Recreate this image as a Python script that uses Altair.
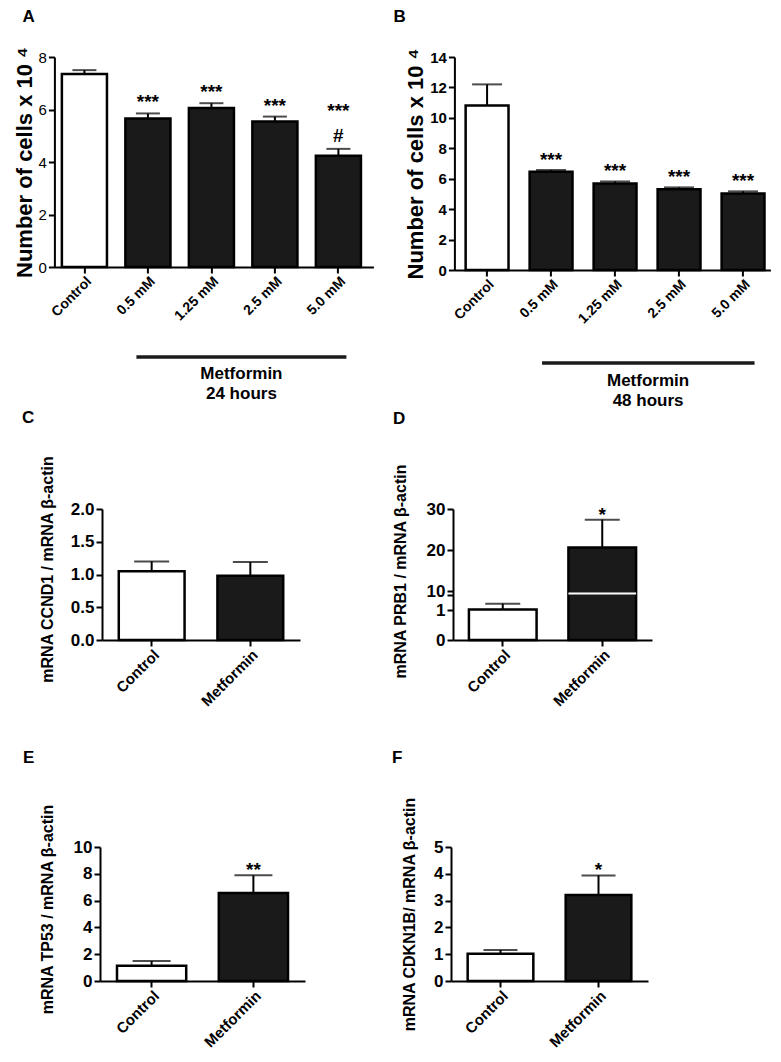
import altair as alt
import pandas as pd

FONT = "Liberation Sans"
INK = "#1a1a1a"

# ---------------- data ----------------
a_groups = ["Control", "0.5 mM", "1.25 mM", "2.5 mM", "5.0 mM"]
a_mean = [7.35, 5.66, 6.06, 5.54, 4.24]
a_sem = [0.15, 0.19, 0.18, 0.19, 0.26]
a_sig = ["", "***", "***", "***", ""]
a_hash = ["", "", "", "", "***\n#"]
a_ticks = [0, 2, 4, 6, 8]

b_groups = ["Control", "0.5 mM", "1.25 mM", "2.5 mM", "5.0 mM"]
b_mean = [10.81, 6.45, 5.68, 5.30, 5.03]
b_sem = [1.39, 0.12, 0.14, 0.13, 0.14]
b_sig = ["", "***", "***", "***", "***"]
b_ticks = [0, 2, 4, 6, 8, 10, 12, 14]

c_groups = ["Control", "Metformin"]
c_mean = [1.05, 0.98]
c_sem = [0.15, 0.21]
c_sig = ["", ""]
c_ticks = [0.0, 0.5, 1.0, 1.5, 2.0]

d_groups = ["Control", "Metformin"]
d_mean = [1.02, 20.6]
d_sem = [0.19, 6.8]
d_sig = ["", "*"]
d_ticks = [0, 1, 1.5, 10, 20, 30]
d_break = [1.5, 10]

e_groups = ["Control", "Metformin"]
e_mean = [1.13, 6.57]
e_sem = [0.36, 1.32]
e_sig = ["", "**"]
e_ticks = [0, 2, 4, 6, 8, 10]

f_groups = ["Control", "Metformin"]
f_mean = [1.02, 3.21]
f_sem = [0.14, 0.73]
f_sig = ["", "*"]
f_ticks = [0, 1, 2, 3, 4, 5]

bracket_a = ["0.5 mM", "5.0 mM", "Metformin\n24 hours"]
bracket_b = ["0.5 mM", "5.0 mM", "Metformin\n48 hours"]


def frame(groups, mean, sem, sig, hsh=None):
    return pd.DataFrame({
        "group": groups, "mean": mean, "sem": sem, "sig": sig,
        "hash": hsh if hsh is not None else [""] * len(groups),
        "kind": ["control"] + ["treated"] * (len(groups) - 1),
    })


def panel(groups, mean, sem, sig, *, letter, letter_x, letter_y, ytitle,
          yscale, yvalues, width, height, pi, po, balign, title_x,
          title_size, ylab_size, ylab_weight, xlab_size, cap, star_dy,
          hsh=None, title_y=None, yfmt=None, label_expr=None, gap=None,
          extra=()):
    df = frame(groups, mean, sem, sig, hsh)
    base = alt.Chart(df).transform_calculate(top="datum.mean + datum.sem")
    xscale = alt.Scale(paddingInner=pi, paddingOuter=po, align=balign)
    xaxis = alt.Axis(title=None, labelAngle=-45, labelFontSize=xlab_size,
                     labelFontWeight="bold", labelPadding=1, labelOverlap=False)

    def X(field):
        return alt.X(field, sort=groups, scale=xscale, axis=xaxis)

    ax_kw = dict(title=ytitle, values=yvalues, titleX=title_x,
                 titleBaseline="alphabetic", titleFontSize=title_size,
                 titleFontWeight="bold", labelFontSize=ylab_size,
                 labelFontWeight=ylab_weight, labelPadding=2,
                 labelOverlap=False)
    if title_y is not None:
        ax_kw["titleY"] = title_y
    if yfmt is not None:
        ax_kw["format"] = yfmt
    if label_expr is not None:
        ax_kw["labelExpr"] = label_expr
    yaxis = alt.Axis(**ax_kw)

    def Y(field):
        return alt.Y(field, scale=yscale, axis=yaxis)

    bars = base.mark_bar(stroke="black", strokeWidth=2.5).encode(
        x=X("group:N"), y=Y("mean:Q"),
        fill=alt.Fill("kind:N", scale=alt.Scale(domain=["control", "treated"],
                                                 range=["white", INK]),
                      legend=None))
    whisk = base.mark_rule(color="black", strokeWidth=2).encode(
        x=X("group:N"), y=Y("mean:Q"), y2="top:Q")
    caps = base.mark_tick(color="black", thickness=2, size=cap).encode(
        x=X("group:N"), y=Y("top:Q"))
    stars = base.mark_text(fontSize=19, fontWeight="bold", baseline="bottom",
                           dy=star_dy).encode(
        x=X("group:N"), y=Y("top:Q"), text="sig:N")
    layers = [bars]
    if gap is not None:
        gdf = pd.DataFrame({"lo": [gap[0]], "hi": [gap[1]], "g": [groups[-1]]})
        layers.append(alt.Chart(gdf).mark_bar(
            color="white", yOffset=1.5, y2Offset=-0.5).encode(
            x=X("g:N"), y=Y("hi:Q"), y2="lo:Q"))
    layers += [whisk, caps, stars]
    if hsh is not None:
        layers.append(base.mark_text(fontSize=19, fontWeight="bold",
                                     baseline="alphabetic", lineBreak="\n",
                                     lineHeight=25, dy=-32).encode(
            x=X("group:N"), y=Y("top:Q"), text="hash:N"))
    lab = alt.Chart(pd.DataFrame({"t": [letter]})).mark_text(
        align="left", baseline="alphabetic", fontSize=17, fontWeight="bold"
    ).encode(x=alt.value(letter_x), y=alt.value(letter_y), text="t:N")
    layers += [lab] + list(extra)
    return alt.layer(*layers).properties(width=width, height=height)


def bracket(spec, y_line, y_text, off1, off2, text_off):
    df = pd.DataFrame({"label": [spec[2]]})
    line = alt.Chart(df).mark_rule(color=INK, strokeWidth=3.5,
                                   xOffset=off1, x2Offset=off2).encode(
        x=alt.datum(spec[0]), x2=alt.datum(spec[1]), y=alt.value(y_line))
    txt = alt.Chart(df).mark_text(fontSize=17, fontWeight="bold",
                                  baseline="top", lineBreak="\n",
                                  lineHeight=20, xOffset=text_off).encode(
        x=alt.datum("1.25 mM"), y=alt.value(y_text), text="label:N")
    return [line, txt]


def spacer():
    return alt.Chart(pd.DataFrame({"t": [""]})).mark_text().encode(
        text="t:N").properties(width=1, height=1)


A = panel(a_groups, a_mean, a_sem, a_sig, hsh=a_hash, letter="A",
          letter_x=-32, letter_y=-35, ytitle="Number of cells x 10 ⁴",
          yscale=alt.Scale(domain=[0, 8], nice=False), yvalues=a_ticks,
          width=319, height=210, pi=0.29, po=0.157, balign=0.375,
          title_x=-23, title_size=22, ylab_size=15, ylab_weight="normal",
          xlab_size=14, cap=24, star_dy=-1,
          extra=bracket(bracket_a, 300, 309, -11.5, 8, 30))

B = panel(b_groups, b_mean, b_sem, b_sig, letter="B", letter_x=-61,
          letter_y=-35, ytitle="Number of cells x 10 ⁴",
          yscale=alt.Scale(domain=[0, 14], nice=False), yvalues=b_ticks,
          width=316, height=213, pi=0.33, po=0.134, balign=0.655,
          title_x=-32, title_size=22, ylab_size=15, ylab_weight="bold",
          xlab_size=14, cap=30, star_dy=0,
          extra=bracket(bracket_b, 306, 315.7, -9, 11.5, 33))

C = panel(c_groups, c_mean, c_sem, c_sig, letter="C",
          letter_x=-80, letter_y=-86, ytitle="mRNA CCND1 / mRNA β-actin",
          yscale=alt.Scale(domain=[0, 2], nice=False), yvalues=c_ticks,
          yfmt=".1f", width=198, height=131, pi=0.333, po=0.17, balign=0.5,
          title_x=-50, title_y=60, title_size=16, ylab_size=17,
          ylab_weight="bold", xlab_size=15, cap=35, star_dy=5)

D = panel(d_groups, d_mean, d_sem, d_sig, letter="D", letter_x=-60,
          letter_y=-85, ytitle="mRNA PRB1 / mRNA β-actin",
          yscale=alt.Scale(domain=[0, 1.5, 10, 30], range=[131, 86, 82, 0],
                           nice=False),
          yvalues=d_ticks, label_expr="datum.value == 1.5 ? '' : datum.label",
          width=199, height=131, pi=0.32, po=0.16, balign=0.5,
          title_x=-48, title_y=62, title_size=16, ylab_size=17,
          ylab_weight="bold", xlab_size=15, cap=35, star_dy=5,
          gap=d_break)

E = panel(e_groups, e_mean, e_sem, e_sig, letter="E",
          letter_x=-77, letter_y=-84, ytitle="mRNA TP53 / mRNA β-actin",
          yscale=alt.Scale(domain=[0, 10], nice=False), yvalues=e_ticks,
          width=205, height=134, pi=0.32, po=0.167, balign=0.5,
          title_x=-48, title_y=62, title_size=16, ylab_size=17,
          ylab_weight="bold", xlab_size=15, cap=38, star_dy=5)

F = panel(f_groups, f_mean, f_sem, f_sig, letter="F", letter_x=-59,
          letter_y=-84, ytitle="mRNA CDKN1B/ mRNA β-actin",
          yscale=alt.Scale(domain=[0, 5], nice=False), yvalues=f_ticks,
          width=197, height=134, pi=0.33, po=0.17, balign=0.5,
          title_x=-37, title_size=16, ylab_size=17,
          ylab_weight="bold", xlab_size=15, cap=34, star_dy=5)

row1 = alt.hconcat(spacer(), alt.hconcat(A, B, spacing=20), spacing=3.4)
row2 = alt.hconcat(spacer(), alt.hconcat(C, D, spacing=91), spacing=13)
row3 = alt.hconcat(spacer(), alt.hconcat(E, F, spacing=87), spacing=14)

top = alt.vconcat(row1, row2, spacing=0)
chart = alt.vconcat(top, row3, spacing=40).properties(
    padding={"left": 0, "top": 0, "right": 0, "bottom": 0}
).configure_view(stroke=None).configure_axis(
    domainColor="black", domainWidth=2, tickColor="black", tickWidth=2,
    tickSize=6, labelColor="black", titleColor="black", grid=False,
    labelFont=FONT, titleFont=FONT
).configure_text(font=FONT, color="black")

chart.save("out.html", embed_options={"renderer": "svg", "actions": False})
